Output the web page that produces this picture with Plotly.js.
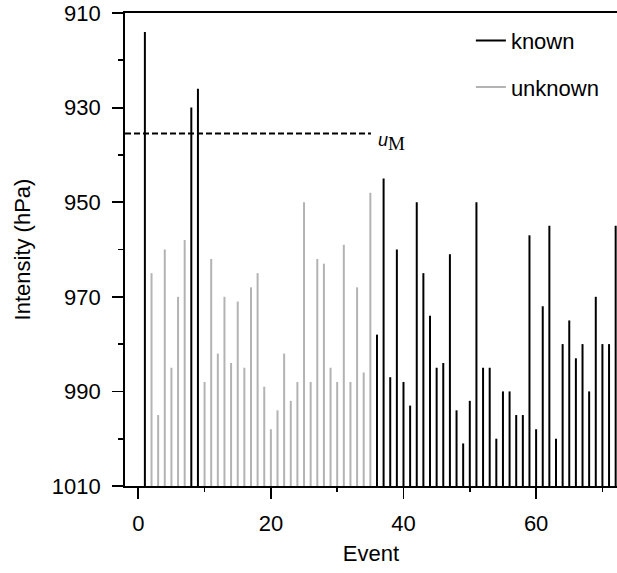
<!DOCTYPE html>
<html>
<head>
<meta charset="utf-8">
<script src="https://cdn.plot.ly/plotly-3.0.1.min.js"></script>
<style>html,body{margin:0;padding:0;background:#fff;}#chart{width:617px;height:573px;}</style>
</head>
<body>
<div id="chart"></div>
<script>
// Event numbers and minimum pressure (hPa), split by known / unknown
var knownEvents = [1, 8, 9, 36, 37, 38, 39, 40, 41, 42, 43, 44, 45, 46, 47, 48, 49, 50, 51, 52, 53, 54,
  55, 56, 57, 58, 59, 60, 61, 62, 63, 64, 65, 66, 67, 68, 69, 70, 71, 72];
var knownValues = [914, 930, 926, 978, 945, 987, 960, 988, 993, 950, 965, 974, 985, 984, 961, 994, 1001, 992, 950, 985, 985, 1000,
  990, 990, 995, 995, 957, 998, 972, 955, 1000, 980, 975, 983, 980, 990, 970, 980, 980, 955];
var unknownEvents = [2, 3, 4, 5, 6, 7, 10, 11, 12, 13, 14, 15, 16, 17, 18, 19, 20, 21, 22, 23, 24, 25,
  26, 27, 28, 29, 30, 31, 32, 33, 34, 35];
var unknownValues = [965, 995, 960, 985, 970, 958, 988, 962, 982, 970, 984, 971, 985, 968, 965, 989, 998, 994, 982, 992, 988, 950,
  988, 962, 963, 985, 988, 959, 988, 968, 986, 948];
var baseline = 1010;
var uM = 935.5;
var uMEnd = 35.1;
var yTicks = [910, 930, 950, 970, 990, 1010];
var yMinor = [920, 940, 960, 980, 1000];
var xTicks = [0, 20, 40, 60];
var xMinor = [10, 30, 50, 70];

function spikes(xs, ys) {
  var X = [], Y = [];
  for (var i = 0; i < xs.length; i++) {
    X.push(xs[i], xs[i], null);
    Y.push(baseline, ys[i], null);
  }
  return {x: X, y: Y};
}
var k = spikes(knownEvents, knownValues);
var u = spikes(unknownEvents, unknownValues);

var FONT = 'Liberation Sans, Arial, sans-serif';
var traces = [
  {x: u.x, y: u.y, type: 'scatter', mode: 'lines', name: 'unknown', legendgroup: 'b', legendrank: 2,
   line: {color: '#b3b3b3', width: 2}, hoverinfo: 'skip'},
  {x: k.x, y: k.y, type: 'scatter', mode: 'lines', name: 'known', legendgroup: 'a', legendrank: 1,
   line: {color: '#000000', width: 2}, hoverinfo: 'skip'}
];

var layout = {
  width: 617, height: 573,
  margin: {l: 125, r: 0, t: 13, b: 87},
  paper_bgcolor: '#fff', plot_bgcolor: '#fff',
  font: {family: FONT, size: 22, color: '#000'},
  showlegend: true,
  legend: {x: 0.703, y: 0.986, xanchor: 'left', yanchor: 'top', bgcolor: 'rgba(0,0,0,0)',
           borderwidth: 0, tracegroupgap: 15, traceorder: 'grouped', font: {size: 22}},
  xaxis: {
    range: [-2, 72.2], showgrid: false, zeroline: false,
    showline: true, linecolor: '#000', linewidth: 1.8, mirror: true,
    tickmode: 'array', tickvals: xTicks, ticks: 'outside', ticklen: 11, tickwidth: 1.8, tickcolor: '#000',
    minor: {tickmode: 'array', tickvals: xMinor, ticks: 'outside', ticklen: 4, tickwidth: 1.8, tickcolor: '#000'},
    ticklabelstandoff: 6,
    title: {text: 'Event', font: {size: 22}, standoff: 10}
  },
  yaxis: {
    range: [1010, 910], showgrid: false, zeroline: false,
    showline: true, linecolor: '#000', linewidth: 1.8,
    tickmode: 'array', tickvals: yTicks, ticks: 'outside', ticklen: 11, tickwidth: 1.8, tickcolor: '#000',
    minor: {tickmode: 'array', tickvals: yMinor, ticks: 'outside', ticklen: 5, tickwidth: 1.8, tickcolor: '#000'},
    ticklabelstandoff: 7,
    automargin: true,
    title: {text: 'Intensity (hPa)', font: {size: 22}, standoff: 15}
  },
  shapes: [
    {type: 'line', xref: 'x', yref: 'y', x0: -2, x1: uMEnd, y0: uM, y1: uM,
     line: {color: '#000', width: 2, dash: '6px,3px'}}
  ],
  annotations: [
    {xref: 'x', yref: 'y', x: uMEnd + 0.75, y: uM, xanchor: 'left', yanchor: 'middle', yshift: -8, showarrow: false,
     text: '<i>u</i><sub><span style="font-family:Liberation Serif, Times New Roman, serif;font-size:19px">M</span></sub>',
     font: {size: 18, family: FONT}}
  ]
};

Plotly.newPlot('chart', traces, layout, {displayModeBar: false, staticPlot: true});
</script>
</body>
</html>
